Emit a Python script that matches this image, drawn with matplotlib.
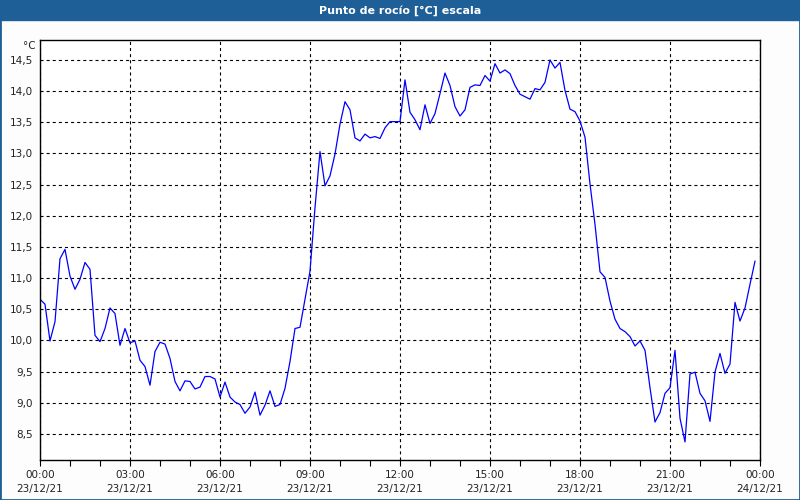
import numpy as np
import matplotlib
matplotlib.use("Agg")
import matplotlib.pyplot as plt

# dew point, one reading every 10 minutes from 23/12/21 00:00 to 23:50
dew_point = [
    10.66, 10.58, 9.99, 10.30, 11.31, 11.46, 11.03, 10.82, 10.98, 11.25, 11.14, 10.08,
    9.98, 10.19, 10.52, 10.43, 9.92, 10.19, 9.96, 9.99, 9.68, 9.58, 9.28, 9.82,
    9.97, 9.94, 9.71, 9.34, 9.19, 9.35, 9.34, 9.22, 9.25, 9.42, 9.42, 9.38,
    9.09, 9.33, 9.09, 9.01, 8.97, 8.83, 8.93, 9.17, 8.80, 8.96, 9.19, 8.94,
    8.97, 9.23, 9.66, 10.19, 10.21, 10.66, 11.11, 12.13, 13.03, 12.48, 12.64, 12.99,
    13.47, 13.83, 13.70, 13.25, 13.20, 13.31, 13.25, 13.27, 13.24, 13.41, 13.51, 13.51,
    13.51, 14.18, 13.66, 13.54, 13.38, 13.78, 13.48, 13.64, 13.96, 14.29, 14.09, 13.75,
    13.60, 13.70, 14.06, 14.10, 14.09, 14.25, 14.16, 14.44, 14.29, 14.34, 14.28, 14.09,
    13.95, 13.91, 13.87, 14.04, 14.02, 14.14, 14.50, 14.37, 14.46, 14.01, 13.71, 13.67,
    13.52, 13.26, 12.51, 11.86, 11.10, 11.01, 10.63, 10.34, 10.19, 10.14, 10.06, 9.91,
    9.99, 9.84, 9.24, 8.69, 8.84, 9.15, 9.24, 9.84, 8.75, 8.37, 9.46, 9.49,
    9.15, 9.03, 8.70, 9.49, 9.79, 9.47, 9.62, 10.61, 10.31, 10.52, 10.90, 11.27,
]
hours = np.arange(len(dew_point)) / 6.0

x_ticks = [0, 3, 6, 9, 12, 15, 18, 21, 24]
x_labels = ["00:00\n23/12/21", "03:00\n23/12/21", "06:00\n23/12/21",
            "09:00\n23/12/21", "12:00\n23/12/21", "15:00\n23/12/21",
            "18:00\n23/12/21", "21:00\n23/12/21", "00:00\n24/12/21"]
y_ticks = np.arange(8.5, 14.51, 0.5)

plt.rcParams['font.family'] = ['DejaVu Sans']
plt.rcParams['lines.scale_dashes'] = False

fig = plt.figure(figsize=(8, 5), dpi=100, facecolor='#fcfdfc')

# title bar and window frame
frame_blue = '#1e5f98'
fig.patches.append(plt.Rectangle((0, 0.96), 1, 0.04, transform=fig.transFigure,
                                 color=frame_blue, zorder=0))
fig.patches.append(plt.Rectangle((0, 0), 1, 1, transform=fig.transFigure, fill=False,
                                 edgecolor=frame_blue, lw=2, zorder=0))
fig.text(0.5, 0.979, "Punto de rocío [°C] escala", color='white', ha='center',
         va='center', fontsize=8, fontweight='bold')

ax = fig.add_axes([0.05, 0.08, 0.90, 0.84])
ax.set_facecolor('white')
ax.plot(hours, dew_point, color='#0000ff', lw=0.9)

ax.set_xlim(0, 24)
ax.set_ylim(8.08, 14.82)
ax.set_xticks(x_ticks)
ax.set_xticklabels(x_labels, fontsize=7.5, color='#222222', linespacing=1.55)
ax.set_xticks(range(25), minor=True)
ax.set_yticks(y_ticks)
ax.set_yticklabels([f"{v:.1f}".replace('.', ',') for v in y_ticks],
                   fontsize=7.5, color='#222222')
ax.tick_params(axis='x', which='both', direction='out', length=4, width=0.8, pad=3)
ax.tick_params(axis='y', length=0, pad=5)

ax.grid(True, which='major', color='black', linestyle=(0, (2.2, 2.2)), lw=0.8)
for s in ax.spines.values():
    s.set_linewidth(1.0)
    s.set_color('black')

fig.text(0.044, 0.908, "°C", ha='right', va='center', fontsize=7.5, color='#222222')

fig.savefig("out.png", dpi=100, facecolor=fig.get_facecolor())
